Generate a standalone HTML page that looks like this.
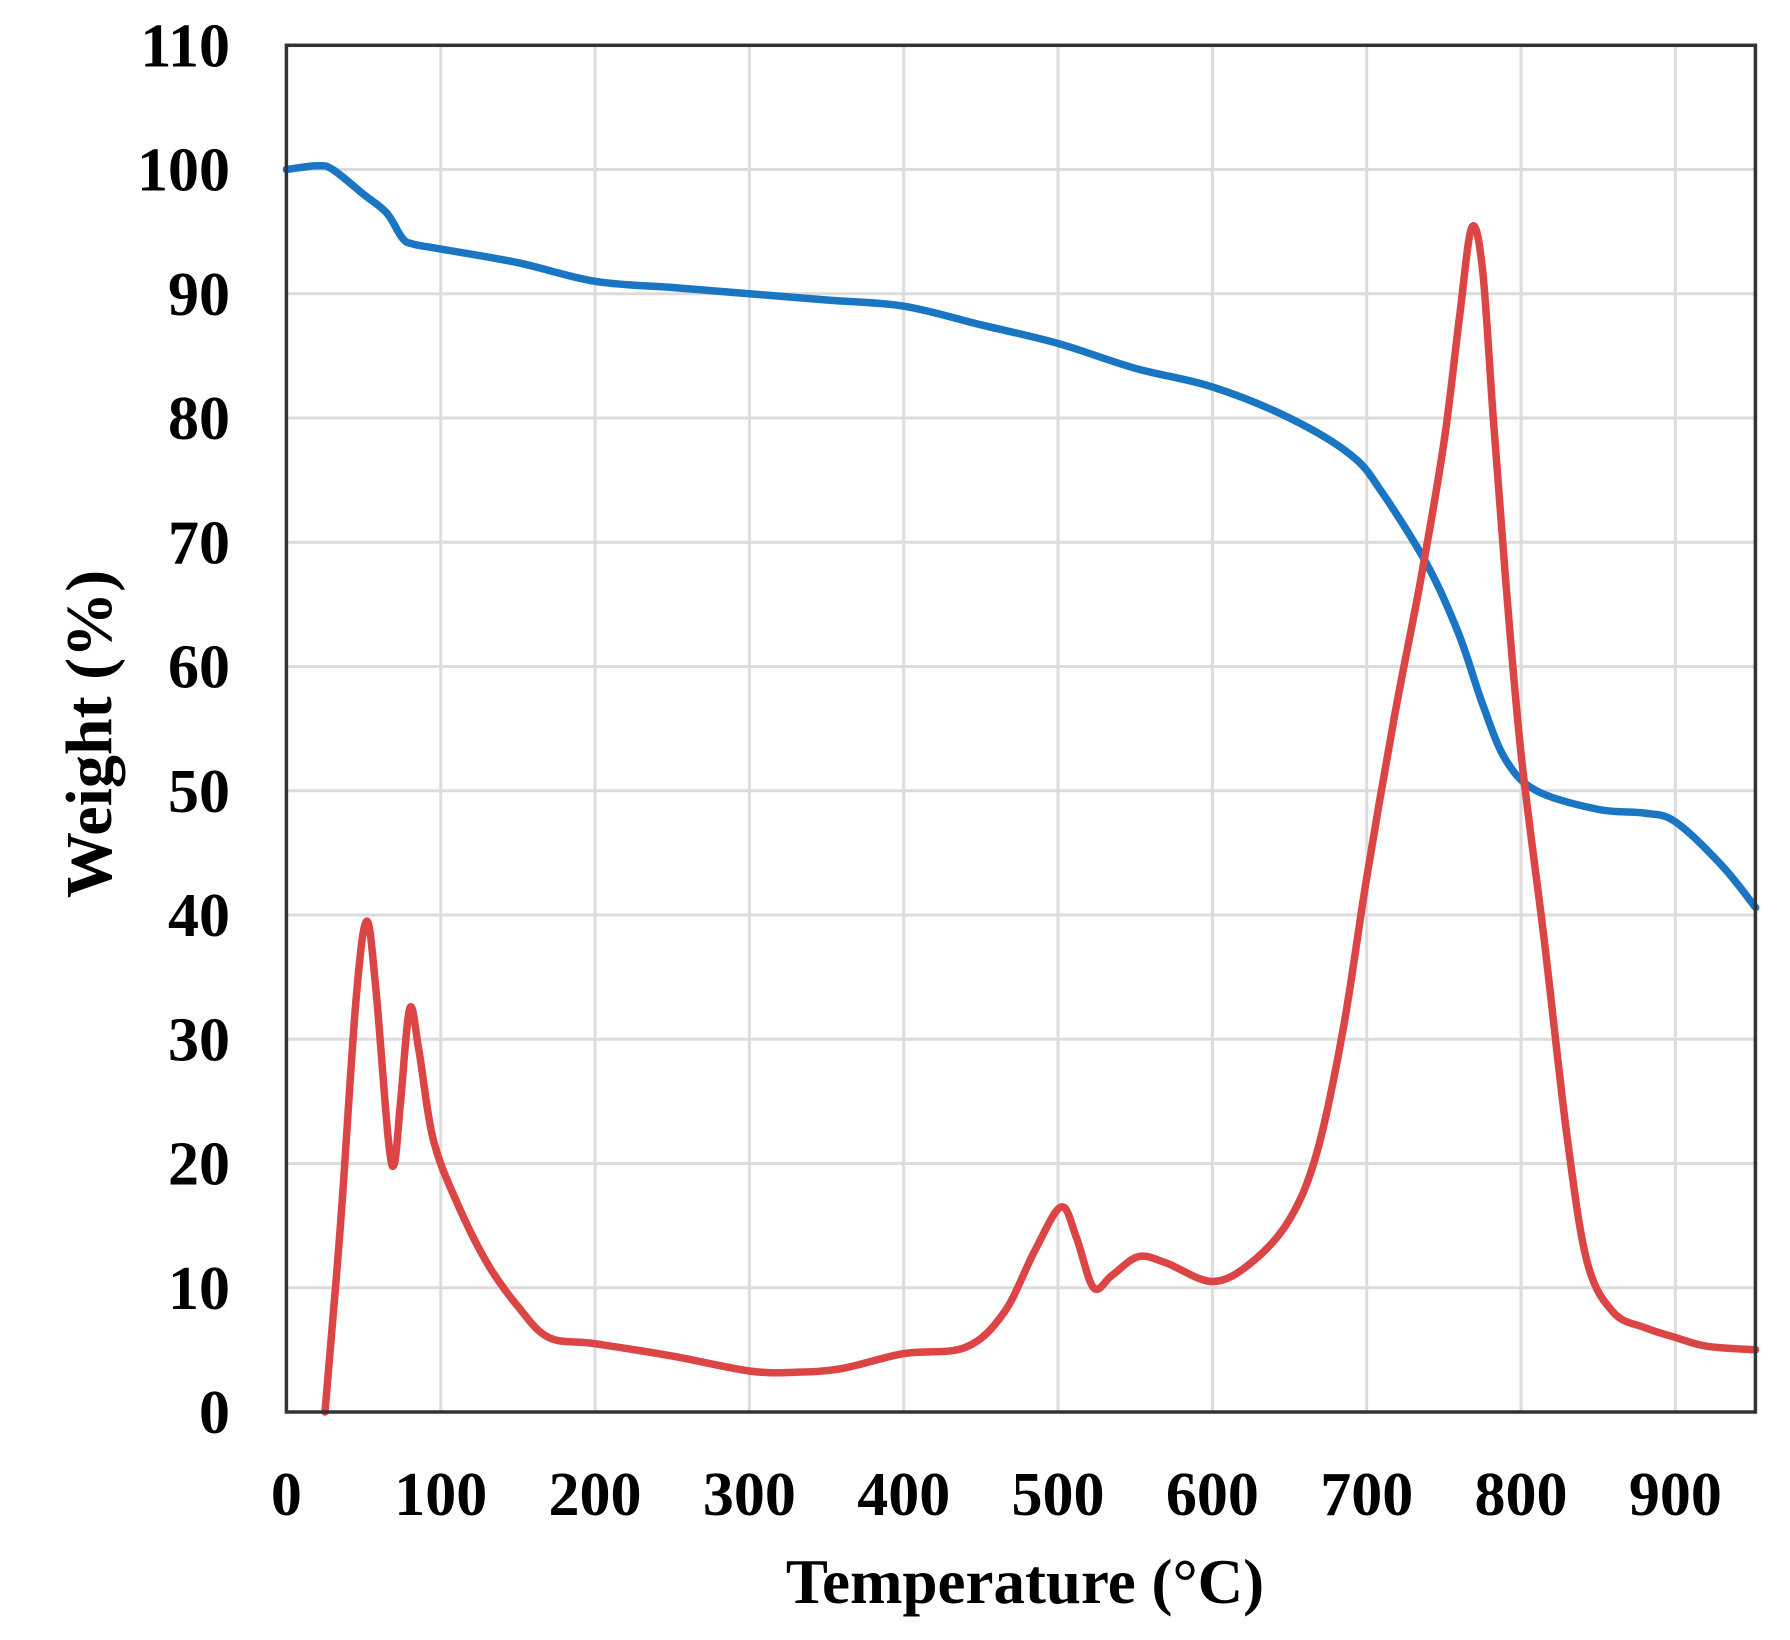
<!DOCTYPE html>
<html><head><meta charset="utf-8"><style>
html,body{margin:0;padding:0;background:#fff;}
svg{display:block;}
text{font-family:"Liberation Serif",serif;font-weight:bold;fill:#000;}
</style></head><body>
<svg id="s" width="1790" height="1640" viewBox="0 0 1790 1640">
<g id="grid" stroke="#dcdcdc" stroke-width="3"></g>
<path id="blue" fill="none" stroke="#1a76c2" stroke-width="7.5" stroke-linejoin="round" stroke-linecap="round"/>
<path id="red" fill="none" stroke="#dc4545" stroke-width="7.5" stroke-linejoin="round" stroke-linecap="round"/>
<rect x="286.4" y="45.3" width="1469" height="1366.7" fill="none" stroke="#333" stroke-width="3.5"/>
<g id="labels"></g>
<text x="1025" y="1603" font-size="63" text-anchor="middle">Temperature (°C)</text>
<text transform="translate(111,734) rotate(-90)" font-size="66" text-anchor="middle">Weight (%)</text>
</svg>
<script>
const X=t=>286.4+t*1.5433, Y=w=>1412-w*12.425;
const ns="http://www.w3.org/2000/svg";
const g=document.getElementById('grid'), L=document.getElementById('labels');
function el(p,tag,a,txt){const e=document.createElementNS(ns,tag);for(const k in a)e.setAttribute(k,a[k]);if(txt!==undefined)e.textContent=txt;p.appendChild(e);}
for(let i=1;i<=10;i++){el(g,'line',{x1:286.4,x2:1755.3,y1:Y(i*10),y2:Y(i*10)});}
for(let i=1;i<=9;i++){el(g,'line',{x1:X(i*100),x2:X(i*100),y1:45.3,y2:1412});}
for(let i=0;i<=11;i++){el(L,'text',{x:230,y:Y(i*10)+21,'font-size':62,'text-anchor':'end'},String(i*10));}
for(let i=0;i<=9;i++){el(L,'text',{x:X(i*100),y:1515,'font-size':62,'text-anchor':'middle'},String(i*100));}
function path(pts){const p=pts.map(([t,w])=>[X(t),Y(w)]);let d='M'+p[0][0]+','+p[0][1];
for(let i=0;i<p.length-1;i++){const p0=p[i-1]||p[i],p1=p[i],p2=p[i+1],p3=p[i+2]||p2;
const c1=[p1[0]+(p2[0]-p0[0])/6,p1[1]+(p2[1]-p0[1])/6],c2=[p2[0]-(p3[0]-p1[0])/6,p2[1]-(p3[1]-p1[1])/6];
d+=`C${c1[0]},${c1[1]} ${c2[0]},${c2[1]} ${p2[0]},${p2[1]}`;}return d;}
const blue=[[0,100],[20,100.3],[30,100],[50,98],[65,96.5],[75,94.5],[82,94],[100,93.6],[150,92.5],[200,91],[250,90.5],[300,90],[350,89.5],[400,89],[450,87.5],[500,86],[550,84],[600,82.5],[650,80],[690,77],[710,74],[740,68],[760,62.5],[775,57],[790,52.5],[810,50],[850,48.5],[880,48.2],[900,47.5],[930,44],[952,40.6]];
const red=[[25,0],[35,15],[45,33],[52,39.5],[58,34],[66,22],[70,20],[74,25],[80,32.5],[86,29],[95,22],[110,17],[130,12],[150,8.5],[170,6],[200,5.5],[250,4.5],[300,3.3],[330,3.2],[360,3.5],[400,4.7],[440,5.2],[465,8],[485,13],[502,16.5],[512,14],[523,10],[535,11],[552,12.5],[570,12],[600,10.5],[625,12],[650,15.5],[668,21],[685,31],[700,43],[718,56],[735,67],[750,78],[760,88],[768,95.3],[775,92],[782,80],[790,67],[800,53],[815,38],[830,22],[843,12],[860,8],[880,6.8],[900,6],[920,5.3],[952,5]];
document.getElementById('blue').setAttribute('d',path(blue));
document.getElementById('red').setAttribute('d',path(red));
</script>
</body></html>
